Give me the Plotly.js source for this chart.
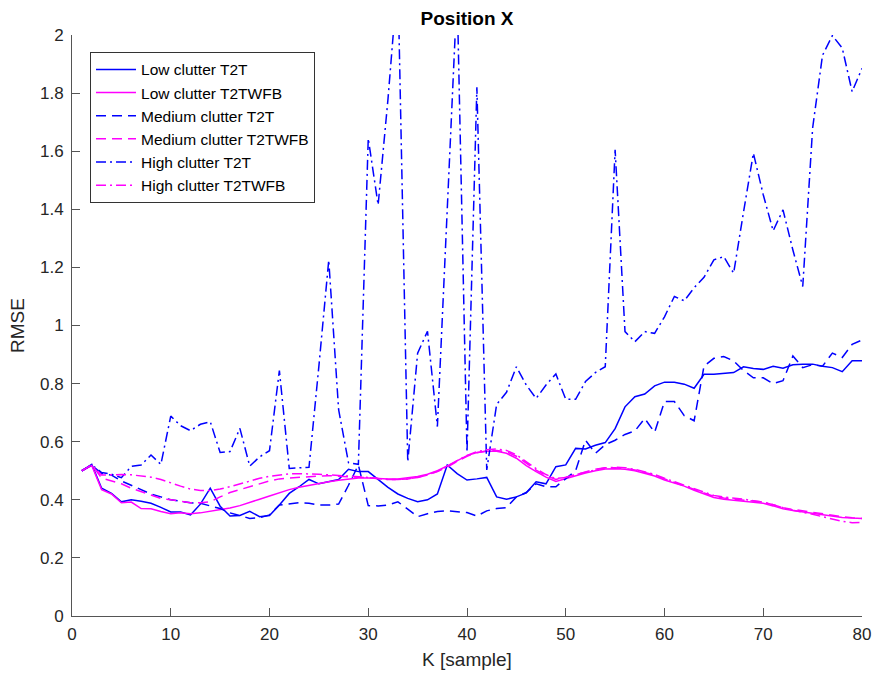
<!DOCTYPE html>
<html>
<head>
<meta charset="utf-8">
<script src="https://cdn.plot.ly/plotly-3.0.1.min.js"></script>
<style>html,body{margin:0;padding:0;background:#fff;}#chart{width:873px;height:677px;}</style>
</head>
<body>
<div id="chart"></div>
<script>
const K = [1,2,3,4,5,6,7,8,9,10,11,12,13,14,15,16,17,18,19,20,21,22,23,24,25,26,27,28,29,30,31,32,33,34,35,36,37,38,39,40,41,42,43,44,45,46,47,48,49,50,51,52,53,54,55,56,57,58,59,60,61,62,63,64,65,66,67,68,69,70,71,72,73,74,75,76,77,78,79,80];

const lowT2T = [0.5,0.522,0.44,0.422,0.393,0.4,0.395,0.388,0.374,0.358,0.358,0.348,0.385,0.44,0.378,0.344,0.346,0.36,0.342,0.346,0.382,0.422,0.445,0.47,0.455,0.462,0.47,0.505,0.497,0.497,0.47,0.443,0.42,0.405,0.393,0.4,0.42,0.52,0.49,0.468,0.472,0.477,0.41,0.402,0.41,0.424,0.462,0.455,0.514,0.52,0.577,0.575,0.588,0.597,0.645,0.72,0.755,0.764,0.792,0.805,0.805,0.798,0.784,0.832,0.832,0.835,0.838,0.858,0.852,0.849,0.86,0.853,0.865,0.867,0.867,0.86,0.855,0.841,0.879,0.879];

const lowT2TWFB = [0.5,0.518,0.435,0.42,0.39,0.392,0.37,0.369,0.36,0.352,0.355,0.352,0.355,0.36,0.367,0.372,0.38,0.392,0.402,0.413,0.425,0.435,0.443,0.45,0.455,0.462,0.467,0.472,0.475,0.475,0.473,0.472,0.472,0.475,0.48,0.488,0.5,0.517,0.535,0.552,0.563,0.567,0.567,0.56,0.543,0.518,0.497,0.478,0.463,0.473,0.483,0.492,0.5,0.506,0.507,0.505,0.5,0.492,0.482,0.468,0.457,0.447,0.433,0.42,0.408,0.402,0.399,0.396,0.392,0.388,0.379,0.369,0.363,0.358,0.352,0.347,0.343,0.339,0.337,0.336];

const medT2T = [0.5,0.52,0.49,0.485,0.465,0.45,0.435,0.42,0.41,0.4,0.395,0.39,0.388,0.38,0.37,0.355,0.345,0.336,0.338,0.348,0.382,0.385,0.39,0.388,0.382,0.382,0.385,0.45,0.52,0.38,0.379,0.382,0.393,0.368,0.342,0.352,0.36,0.362,0.358,0.356,0.344,0.362,0.37,0.373,0.41,0.425,0.455,0.445,0.445,0.472,0.5,0.605,0.56,0.59,0.605,0.625,0.637,0.68,0.632,0.738,0.738,0.69,0.672,0.86,0.887,0.893,0.878,0.845,0.82,0.82,0.8,0.81,0.895,0.855,0.865,0.86,0.905,0.89,0.935,0.95];

const medT2TWFB = [0.5,0.52,0.475,0.465,0.455,0.44,0.428,0.418,0.405,0.4,0.395,0.39,0.39,0.393,0.41,0.425,0.435,0.445,0.455,0.465,0.472,0.475,0.478,0.48,0.482,0.483,0.482,0.48,0.478,0.476,0.473,0.47,0.47,0.472,0.477,0.485,0.497,0.513,0.532,0.55,0.562,0.568,0.57,0.565,0.55,0.525,0.502,0.483,0.47,0.478,0.488,0.496,0.505,0.51,0.51,0.508,0.503,0.495,0.485,0.472,0.46,0.45,0.437,0.424,0.412,0.406,0.403,0.4,0.396,0.392,0.383,0.373,0.367,0.362,0.356,0.35,0.346,0.342,0.338,0.336];

const highT2T = [0.5,0.52,0.494,0.488,0.476,0.515,0.52,0.554,0.522,0.688,0.655,0.638,0.66,0.669,0.563,0.566,0.646,0.516,0.548,0.569,0.845,0.508,0.51,0.512,0.86,1.225,0.71,0.528,0.522,1.644,1.415,1.78,2.2,0.531,0.905,0.98,0.652,1.42,2.15,0.563,1.82,0.503,0.728,0.77,0.858,0.795,0.749,0.795,0.833,0.746,0.746,0.807,0.838,0.858,1.605,0.979,0.944,0.979,0.973,1.03,1.1,1.085,1.13,1.166,1.226,1.237,1.18,1.39,1.593,1.45,1.326,1.398,1.26,1.134,1.68,1.93,1.998,1.955,1.805,1.885];

const highT2TWFB = [0.5,0.52,0.485,0.487,0.487,0.486,0.482,0.478,0.47,0.458,0.447,0.437,0.432,0.432,0.437,0.445,0.455,0.465,0.474,0.481,0.486,0.489,0.49,0.49,0.488,0.486,0.484,0.482,0.48,0.477,0.473,0.47,0.47,0.472,0.477,0.486,0.498,0.515,0.535,0.553,0.566,0.572,0.575,0.57,0.555,0.53,0.507,0.487,0.473,0.477,0.487,0.495,0.503,0.51,0.512,0.51,0.505,0.497,0.487,0.474,0.462,0.452,0.44,0.427,0.415,0.41,0.407,0.402,0.397,0.392,0.383,0.372,0.364,0.358,0.35,0.342,0.334,0.326,0.321,0.322];

const names = ['Low clutter T2T','Low clutter T2TWFB','Medium clutter T2T','Medium clutter T2TWFB','High clutter T2T','High clutter T2TWFB'];
const series = [lowT2T, lowT2TWFB, medT2T, medT2TWFB, highT2T, highT2TWFB];
const colors = ['#0000ff','#ff00ff','#0000ff','#ff00ff','#0000ff','#ff00ff'];
const dashes = ['solid','solid','10px,6px','10px,6px','10px,4px,2px,4px','10px,4px,2px,4px'];

const traces = series.map((y, i) => ({
  x: K, y: y, type: 'scatter', mode: 'lines', name: names[i],
  legendgroup: 'g' + i,
  line: {color: colors[i], width: 1.5, dash: dashes[i]}
}));

const font = 'Liberation Sans, Arial, Helvetica, sans-serif';
const axisCol = '#555555';
const layout = {
  width: 873, height: 677,
  margin: {l: 72, r: 11, t: 35, b: 61},
  paper_bgcolor: '#fff', plot_bgcolor: '#fff',
  font: {family: font, color: '#262626'},
  title: {text: '<b>Position X</b>', font: {size: 19, color: '#000', family: font}, x: 0.535, xanchor: 'center', y: 0.973, yanchor: 'middle'},
  xaxis: {
    range: [0, 80], dtick: 10, tick0: 0, ticks: 'inside', ticklen: 8, tickcolor: axisCol,
    showline: true, linecolor: axisCol, linewidth: 1, showgrid: false, zeroline: false,
    ticklabelstandoff: 3,
    tickfont: {size: 17, color: '#262626'},
    title: {text: 'K [sample]', font: {size: 19, color: '#262626'}, standoff: 9}
  },
  yaxis: {
    range: [0, 2], dtick: 0.2, tick0: 0, ticks: 'inside', ticklen: 8, tickcolor: axisCol,
    showline: true, linecolor: axisCol, linewidth: 1, showgrid: false, zeroline: false,
    ticklabelstandoff: 4,
    tickfont: {size: 17, color: '#262626'},
    title: {text: 'RMSE', font: {size: 19, color: '#262626'}, standoff: 10}
  },
  showlegend: true,
  legend: {
    x: 0.0228, y: 0.971, xanchor: 'left', yanchor: 'top',
    bgcolor: '#fff', bordercolor: '#333333', borderwidth: 1,
    font: {size: 15.5, color: '#000', family: font},
    tracegroupgap: 0, itemwidth: 40
  }
};

Plotly.newPlot('chart', traces, layout, {displayModeBar: false, staticPlot: true});
</script>
</body>
</html>
